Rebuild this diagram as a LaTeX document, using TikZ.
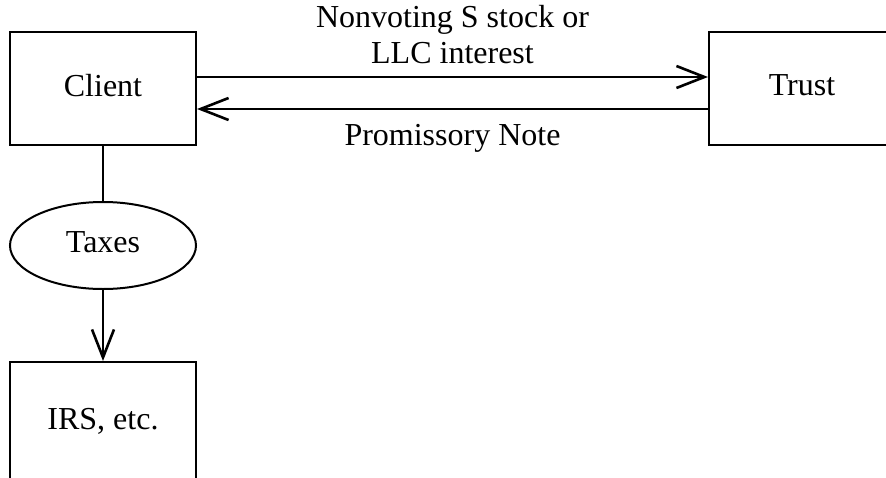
\documentclass[tikz,border=0pt]{standalone}
\usepackage{fontspec}
\setmainfont{Liberation Serif}
\usetikzlibrary{arrows.meta,shapes.geometric}
\begin{document}
\begin{tikzpicture}[x=1pt,y=1pt,
  every node/.style={font=\fontsize{32}{36}\selectfont},
  party/.style={draw,line width=2pt,minimum width=186pt,minimum height=113pt,inner sep=0pt,text depth=7pt},
  flow/.style={line width=2.6pt,-{Straight Barb[length=28pt,width=22pt]}},
  link/.style={line width=2.6pt}]
\useasboundingbox (0,0) rectangle (886,-477);
\clip (0,0) rectangle (886,-477);
% parties
\node[party] (client) at (103,-88.5) {Client};
\node[party] (trust) at (802,-88.5) {Trust};
\node[draw,ellipse,line width=2pt,minimum width=186pt,minimum height=87pt,inner sep=0pt,text depth=7pt] (taxes) at (103,-245.5) {Taxes};
\node[party,minimum height=122pt,text depth=0pt] (irs) at (103,-423) {\raisebox{8pt}{IRS, etc.}};
% transfers between client and trust
\draw[flow] ([yshift=11.5pt]client.east) -- node[above=12pt,inner sep=0pt,align=center,text depth=0pt]{Nonvoting S stock or\\LLC interest} ([yshift=11.5pt]trust.west);
\draw[flow] ([yshift=-20.5pt]trust.west) -- node[below=14pt,inner sep=0pt]{Promissory Note} ([yshift=-20.5pt]client.east);
% tax payment
\draw[link] (client) -- (taxes);
\draw[flow] (taxes) -- (irs);
\end{tikzpicture}
\end{document}
